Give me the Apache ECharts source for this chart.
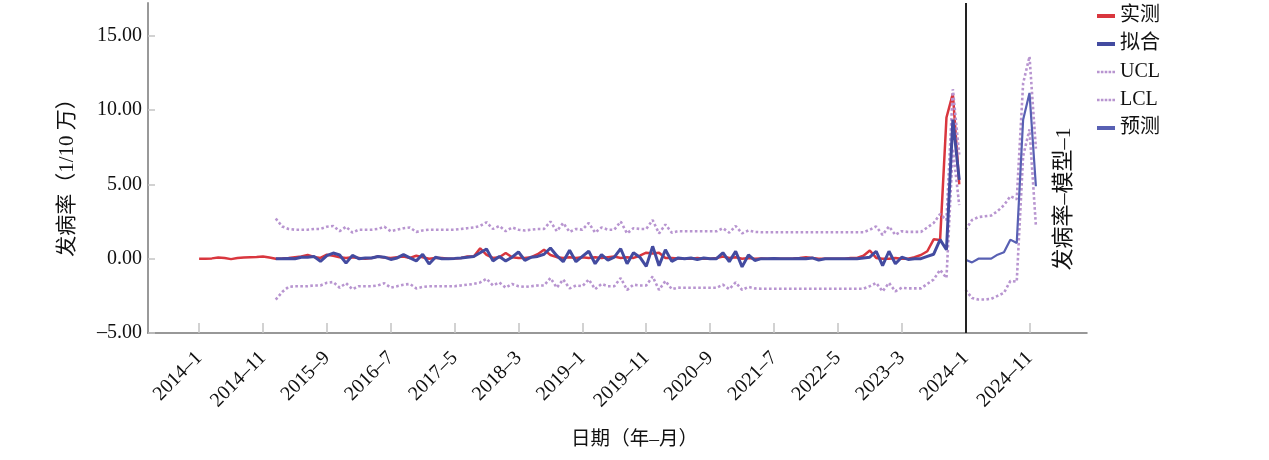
<!DOCTYPE html>
<html>
<head>
<meta charset="utf-8">
<title>发病率 模型-1</title>
<script src="https://cdn.jsdelivr.net/npm/echarts@6/dist/echarts.min.js"></script>
<style>
  html, body { margin: 0; padding: 0; background: #fff; }
  #chart { width: 1269px; height: 460px; }
</style>
</head>
<body>
<div id="chart"></div>
<script>
// 月份分类：2013-5 ~ 2025-8（轴两端留白），标签每 10 个月显示一次
var months = [];
for (var i = -8; i <= 139; i++) {
  var yy = 2014 + Math.floor(i / 12);
  var mm = ((i % 12) + 12) % 12 + 1;
  months.push(yy + '–' + mm);
}
var labelMonths = ['2014–1', '2014–11', '2015–9', '2016–7', '2017–5', '2018–3', '2019–1',
  '2019–11', '2020–9', '2021–7', '2022–5', '2023–3', '2024–1', '2024–11'];
var yTicks = [-5, 0, 5, 10, 15];

// 实测 2014-1 ~ 2023-12
var observed = [
  0.00, 0.00, 0.02, 0.08, 0.05, -0.03, 0.05, 0.08, 0.10, 0.12, 0.15, 0.08,
  0.00, 0.02, 0.05, 0.10, 0.15, 0.25, 0.12, 0.05, 0.27, 0.20, 0.10, 0.05,
  0.10, 0.05, 0.00, 0.05, 0.15, 0.08, 0.05, 0.10, 0.15, 0.05, 0.20, 0.10,
  0.00, 0.05, 0.05, 0.00, 0.02, 0.05, 0.15, 0.15, 0.70, 0.25, 0.05, 0.10,
  0.38, 0.10, 0.05, 0.05, 0.10, 0.30, 0.60, 0.25, 0.10, 0.05, 0.10, 0.05,
  0.10, 0.05, 0.10, 0.05, 0.10, 0.15, 0.05, 0.10, 0.05, 0.20, 0.40, 0.35,
  0.40, 0.05, 0.05, 0.02, 0.00, 0.00, 0.05, 0.00, 0.00, 0.05, 0.15, 0.05,
  0.10, 0.00, 0.05, 0.00, 0.02, 0.00, 0.00, 0.00, 0.00, 0.02, 0.05, 0.10,
  0.05, 0.00, 0.00, 0.00, 0.00, 0.00, 0.05, 0.05, 0.20, 0.55, 0.05, 0.00,
  0.00, 0.05, 0.00, 0.00, 0.10, 0.25, 0.50, 1.30, 1.25, 9.50, 11.10, 5.00
];
// 拟合 2015-1 ~ 2023-12
var fitted = [
  0.00, 0.00, 0.02, 0.00, 0.10, 0.10, 0.15, -0.18, 0.20, 0.38, 0.25, -0.30,
  0.22, 0.00, 0.05, 0.05, 0.15, 0.10, -0.05, 0.05, 0.27, 0.05, -0.15, 0.30,
  -0.36, 0.10, 0.00, 0.00, 0.02, 0.05, 0.10, 0.15, 0.40, 0.65, -0.15, 0.15,
  -0.15, 0.10, 0.45, -0.12, 0.10, 0.15, 0.30, 0.72, 0.20, -0.20, 0.56, -0.20,
  0.15, 0.50, -0.34, 0.27, -0.10, 0.10, 0.67, -0.34, 0.40, 0.10, -0.52, 0.83,
  -0.47, 0.60, -0.18, 0.05, 0.00, 0.05, -0.05, 0.05, 0.00, 0.00, 0.40, -0.20,
  0.50, -0.55, 0.25, -0.12, 0.00, 0.00, 0.02, 0.00, 0.00, 0.00, 0.02, 0.00,
  0.05, -0.10, 0.00, 0.00, 0.00, 0.00, 0.00, 0.00, 0.05, 0.10, 0.50, -0.47,
  0.50, -0.34, 0.10, -0.05, 0.00, 0.00, 0.15, 0.30, 1.28, 0.60, 9.35, 5.30
];
// UCL 2015-1 ~ 2023-12
var ucl = [
  2.70, 2.17, 2.00, 1.95, 1.95, 1.95, 2.00, 2.00, 2.15, 2.20, 1.85, 2.15,
  1.75, 1.95, 1.95, 1.95, 2.00, 2.15, 1.85, 1.95, 2.05, 2.10, 1.80, 1.90,
  1.95, 1.95, 1.95, 1.95, 1.95, 2.00, 2.05, 2.10, 2.20, 2.45, 2.00, 2.20,
  1.85, 2.10, 1.95, 1.90, 1.95, 2.00, 2.00, 2.50, 1.85, 2.40, 1.80, 2.00,
  1.95, 2.40, 1.75, 2.10, 1.95, 1.95, 2.50, 1.70, 2.05, 2.00, 2.00, 2.60,
  1.70, 2.30, 1.75, 1.85, 1.84, 1.84, 1.84, 1.84, 1.84, 1.84, 2.05, 1.75,
  2.20, 1.70, 1.90, 1.80, 1.78, 1.78, 1.78, 1.78, 1.78, 1.78, 1.78, 1.78,
  1.78, 1.78, 1.78, 1.78, 1.78, 1.78, 1.78, 1.78, 1.78, 1.95, 2.17, 1.60,
  2.17, 1.60, 1.85, 1.80, 1.80, 1.80, 2.10, 2.40, 3.00, 2.60, 11.40, 7.00
];
// LCL 2015-1 ~ 2023-12
var lcl = [
  -2.76, -2.24, -1.90, -1.85, -1.85, -1.85, -1.80, -1.80, -1.62, -1.57, -1.95, -1.65,
  -2.05, -1.85, -1.85, -1.85, -1.80, -1.65, -1.95, -1.85, -1.75, -1.70, -2.00, -1.90,
  -1.85, -1.85, -1.85, -1.85, -1.85, -1.80, -1.75, -1.70, -1.60, -1.35, -1.80, -1.60,
  -1.95, -1.70, -1.85, -1.90, -1.85, -1.80, -1.80, -1.30, -1.95, -1.40, -2.00, -1.80,
  -1.85, -1.40, -2.05, -1.70, -1.85, -1.85, -1.30, -2.10, -1.75, -1.80, -1.80, -1.20,
  -2.10, -1.50, -2.05, -1.95, -1.96, -1.96, -1.96, -1.96, -1.96, -1.96, -1.75, -2.05,
  -1.60, -2.10, -1.90, -2.00, -2.02, -2.02, -2.02, -2.02, -2.02, -2.02, -2.02, -2.02,
  -2.02, -2.02, -2.02, -2.02, -2.02, -2.02, -2.02, -2.02, -2.02, -1.85, -1.63, -2.20,
  -1.63, -2.20, -1.95, -2.00, -2.00, -2.00, -1.70, -1.40, -0.75, -1.30, 7.40, 3.60
];
// 预测 2024-1 ~ 2024-12
var forecast = [-0.07, -0.25, 0.00, 0.00, 0.00, 0.27, 0.43, 1.28, 1.05, 9.35, 11.15, 4.87];
var forecastUcl = [1.95, 2.60, 2.80, 2.85, 2.90, 3.20, 3.60, 4.20, 4.00, 11.80, 13.60, 7.40];
var forecastLcl = [-2.10, -2.65, -2.75, -2.75, -2.70, -2.50, -2.30, -1.50, -1.55, 6.90, 8.70, 2.20];

function toPairs(startMonth, values) {
  var s = months.indexOf(startMonth);
  return values.map(function (v, k) { return [months[s + k], v]; });
}

var FONT = "'Liberation Serif', 'Noto Sans CJK SC', serif";
var RED = '#d9363e', BLUE = '#434ba0', BLUE2 = '#5860b3', PURPLE = '#b895d0';
var SOLID_ICON = 'path://M0,0H18V4H0Z';
var DOT_ICON = 'path://M0,0h2.6v2.6h-2.6z M3.85,0h2.6v2.6h-2.6z M7.7,0h2.6v2.6h-2.6z M11.55,0h2.6v2.6h-2.6z M15.4,0h2.6v2.6h-2.6z';

function showLabel(index, value) { return labelMonths.indexOf(value) >= 0; }

function dotted(name, data) {
  return {
    name: name, type: 'line', data: data, symbol: 'none', z: 3,
    lineStyle: { color: PURPLE, width: 2.6, type: [2.6, 2.4] },
    itemStyle: { color: PURPLE }
  };
}

var myChart = echarts.init(document.getElementById('chart'));
var option = {
  animation: false,
  textStyle: { fontFamily: FONT },
  grid: { left: 148, right: 182, top: 3, bottom: 127 },
  legend: {
    orient: 'vertical',
    left: 1092,
    top: 1,
    itemWidth: 18,
    itemHeight: 4,
    itemGap: 8,
    textStyle: { fontFamily: FONT, fontSize: 20, color: '#111', lineHeight: 20 },
    data: [
      { name: '实测', icon: SOLID_ICON },
      { name: '拟合', icon: SOLID_ICON },
      { name: 'UCL', icon: DOT_ICON },
      { name: 'LCL', icon: DOT_ICON },
      { name: '预测', icon: SOLID_ICON }
    ]
  },
  xAxis: {
    type: 'category',
    data: months,
    boundaryGap: false,
    name: '日期（年–月）',
    nameLocation: 'middle',
    nameGap: 97,
    nameTextStyle: { fontFamily: FONT, fontSize: 19.5, color: '#111', padding: [0, 0, 0, 34] },
    axisLine: { onZero: false, lineStyle: { color: '#777', width: 1.5 } },
    axisTick: { inside: true, length: 10, interval: showLabel, lineStyle: { color: '#c4c4c4', width: 1.5 } },
    axisLabel: {
      interval: showLabel,
      rotate: 45,
      margin: 22,
      fontFamily: FONT,
      fontSize: 20,
      color: '#111'
    },
    splitLine: { show: false }
  },
  yAxis: {
    type: 'value',
    min: -5,
    max: 17.2,
    interval: 5,
    name: '发病率（1/10 万）',
    nameLocation: 'middle',
    nameRotate: 90,
    nameGap: 70,
    nameTextStyle: { fontFamily: FONT, fontSize: 21, color: '#111', padding: [0, 0, 0, -9] },
    axisLine: { show: true, lineStyle: { color: '#999', width: 2 } },
    axisTick: { show: true, inside: true, length: 7, customValues: yTicks, lineStyle: { color: '#c4c4c4', width: 1.5 } },
    axisLabel: {
      customValues: yTicks,
      margin: 6,
      fontFamily: FONT,
      fontSize: 20,
      color: '#111',
      formatter: function (v) { return v.toFixed(2).replace('-', '–'); }
    },
    splitLine: { show: false }
  },
  graphic: [{
    type: 'text',
    x: 1064,
    y: 199,
    rotation: Math.PI / 2,
    style: {
      text: '发病率–模型–1',
      font: "22px 'Liberation Serif', 'Noto Sans CJK SC'",
      fill: '#111',
      align: 'center',
      verticalAlign: 'middle'
    }
  }],
  series: [
    {
      name: '实测', type: 'line', data: toPairs('2014–1', observed), symbol: 'none', z: 2,
      lineStyle: { color: RED, width: 2.5 }, itemStyle: { color: RED },
      markLine: {
        silent: true,
        symbol: ['none', 'none'],
        label: { show: false },
        lineStyle: { color: '#222', width: 2, type: 'solid' },
        data: [{ xAxis: '2024–1' }]
      }
    },
    {
      name: '拟合', type: 'line', data: toPairs('2015–1', fitted), symbol: 'none', z: 4,
      lineStyle: { color: BLUE, width: 3 }, itemStyle: { color: BLUE }
    },
    dotted('UCL', toPairs('2015–1', ucl)),
    dotted('LCL', toPairs('2015–1', lcl)),
    dotted('UCL', toPairs('2024–1', forecastUcl)),
    dotted('LCL', toPairs('2024–1', forecastLcl)),
    {
      name: '预测', type: 'line', data: toPairs('2024–1', forecast), symbol: 'none', z: 4,
      lineStyle: { color: BLUE2, width: 2.2 }, itemStyle: { color: BLUE2 }
    }
  ]
};
myChart.setOption(option);
</script>
</body>
</html>
